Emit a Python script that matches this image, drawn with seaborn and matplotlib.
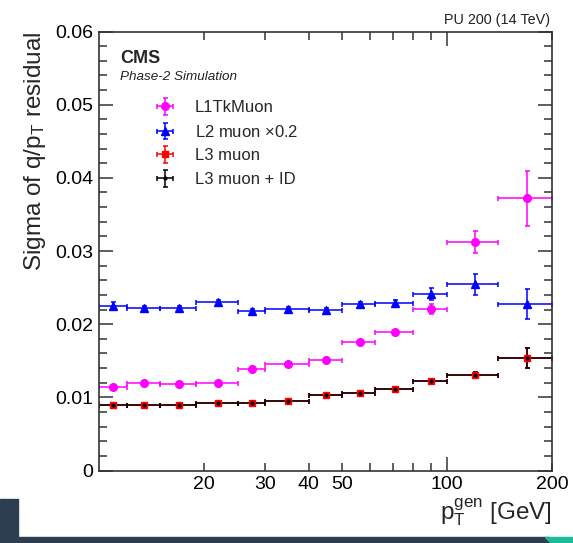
import matplotlib
matplotlib.use("Agg")
import matplotlib.pyplot as plt
import seaborn as sns
from matplotlib.ticker import FixedLocator, FuncFormatter
from matplotlib.patches import Rectangle, Polygon

# ==================== data ====================
bin_lo = [10, 12, 15, 19, 25, 30, 40, 50, 62, 80, 100, 140]
bin_hi = [12, 15, 19, 25, 30, 40, 50, 62, 80, 100, 140, 200]
pt_center = [11, 13.5, 17, 22, 27.5, 35, 45, 56, 71, 90, 120, 170]

l1tk = [0.01146, 0.0120, 0.01182, 0.0120, 0.01391, 0.01451, 0.01506,
        0.01756, 0.01893, 0.02212, 0.03127, 0.0372]
l1tk_err = [0.0002, 0.0002, 0.0002, 0.0002, 0.0002, 0.0002, 0.0002,
            0.0003, 0.0003, 0.0007, 0.0015, 0.0038]

l2 = [0.02248, 0.02225, 0.02225, 0.02298, 0.02184, 0.02207, 0.02193,
      0.02271, 0.02285, 0.02408, 0.02545, 0.02275]
l2_err = [0.0006, 0.0003, 0.0003, 0.0003, 0.0003, 0.0003, 0.0003,
          0.0003, 0.0004, 0.0008, 0.0014, 0.0020]

l3 = [0.00891, 0.0090, 0.00891, 0.00922, 0.00922, 0.00945, 0.01036,
      0.01064, 0.01118, 0.01227, 0.01301, 0.01537]
l3_err = [0.0002, 0.0002, 0.0002, 0.0002, 0.0002, 0.0002, 0.0002,
          0.0002, 0.0002, 0.0003, 0.0004, 0.0014]

l3id = [0.00891, 0.0090, 0.00891, 0.00922, 0.00922, 0.00945, 0.01036,
        0.01064, 0.01118, 0.01227, 0.01301, 0.01537]
l3id_err = [0.0002, 0.0002, 0.0002, 0.0002, 0.0002, 0.0002, 0.0002,
            0.0002, 0.0002, 0.0003, 0.0004, 0.0014]

# ==================== style ====================
sns.set_theme(style="ticks")
plt.rcParams["font.family"] = ["Liberation Sans", "DejaVu Sans"]
plt.rcParams["mathtext.fontset"] = "custom"
plt.rcParams["mathtext.rm"] = "Liberation Sans"
plt.rcParams["mathtext.it"] = "Liberation Sans"

fig = plt.figure(figsize=(5.73, 5.43), dpi=100)
ax = fig.add_axes([99 / 573, 1 - 470.5 / 543, 453 / 573, 439 / 543])

xerr = [[c - lo for c, lo in zip(pt_center, bin_lo)],
        [hi - c for c, hi in zip(pt_center, bin_hi)]]

series = [
    ("L1TkMuon", l1tk, l1tk_err, "#ff00ff", "o", 5.5),
    ("L2 muon $\\times$0.2", l2, l2_err, "#0000ff", "^", 5.5),
    ("L3 muon", l3, l3_err, "#ff0000", "s", 5.0),
    ("L3 muon + ID", l3id, l3id_err, "black", "o", 2.0),
]
for label, y, yerr, col, mk, ms in series:
    ax.errorbar(pt_center, y, xerr=xerr, yerr=yerr, fmt=mk, color=col,
                ms=ms, mec=col, elinewidth=1.1, capsize=1.8, capthick=1.1,
                label=label)

ax.set_xscale("log")
ax.set_xlim(10, 200)
ax.set_ylim(0, 0.06)

# x ticks, ROOT style
ax.xaxis.set_major_locator(FixedLocator([100]))
ax.xaxis.set_minor_locator(FixedLocator([20, 30, 40, 50, 60, 70, 80, 90, 200]))
ax.xaxis.set_major_formatter(FuncFormatter(lambda v, p: "100"))
ax.xaxis.set_minor_formatter(
    FuncFormatter(lambda v, p: "%d" % v if v in (20, 30, 40, 50, 200) else ""))
ax.yaxis.set_major_locator(FixedLocator([0, 0.01, 0.02, 0.03, 0.04, 0.05, 0.06]))
ax.yaxis.set_minor_locator(FixedLocator([i * 0.002 for i in range(31)]))
ax.yaxis.set_major_formatter(FuncFormatter(lambda v, p: "0" if v == 0 else "%.2f" % v))

ax.tick_params(which="both", direction="in", top=True, right=True,
               colors="#333333", labelcolor="black", labelsize=14, width=1.1)
ax.tick_params(which="major", length=10, pad=4)
ax.tick_params(which="minor", length=5.5, pad=4)
ax.tick_params(axis="x", which="minor", length=6)
for s in ax.spines.values():
    s.set_linewidth(1.2)
    s.set_color("#333333")

ax.set_ylabel("Sigma of q/p$_\\mathregular{T}$ residual", fontsize=17.5, loc="top")
ax.yaxis.set_label_coords(-0.112, 1.0)
ax.set_xlabel("p$_\\mathregular{T}^\\mathregular{gen}$ [GeV]", fontsize=17.5, loc="right")
ax.xaxis.set_label_coords(1.0, -0.06)

leg = ax.legend(loc="upper left", bbox_to_anchor=(145 / 573, 1 - 100 / 543),
                bbox_transform=fig.transFigure, frameon=False, fontsize=12,
                handlelength=2.4, handletextpad=0.6, labelspacing=0.52,
                borderpad=0, borderaxespad=0)

fig.text(120 / 573, 1 - 62.7 / 543, "CMS", fontsize=13, fontweight="bold",
         va="baseline", ha="left")
fig.text(120 / 573, 1 - 80.5 / 543, "Phase-2 Simulation", fontsize=9.7,
         style="italic", va="baseline", ha="left", color="#222222")
fig.text(550 / 573, 1 - 24 / 543, "PU 200 (14 TeV)", fontsize=10.4,
         va="baseline", ha="right", color="#222222")

# slide decoration at the bottom
dark = "#2c3e50"
fig.patches.append(Rectangle((0, 0), 18 / 573, 44 / 543, transform=fig.transFigure,
                             color=dark, zorder=0))
fig.patches.append(Rectangle((0, 0), 549 / 573, 6 / 543, transform=fig.transFigure,
                             color=dark, zorder=0))
fig.patches.append(Polygon([(545 / 573, 6 / 543), (1, 6 / 543), (1, 0), (551 / 573, 0)],
                           closed=True, transform=fig.transFigure,
                           color="#1abc9c", zorder=0))

fig.savefig("out.png", dpi=100)
